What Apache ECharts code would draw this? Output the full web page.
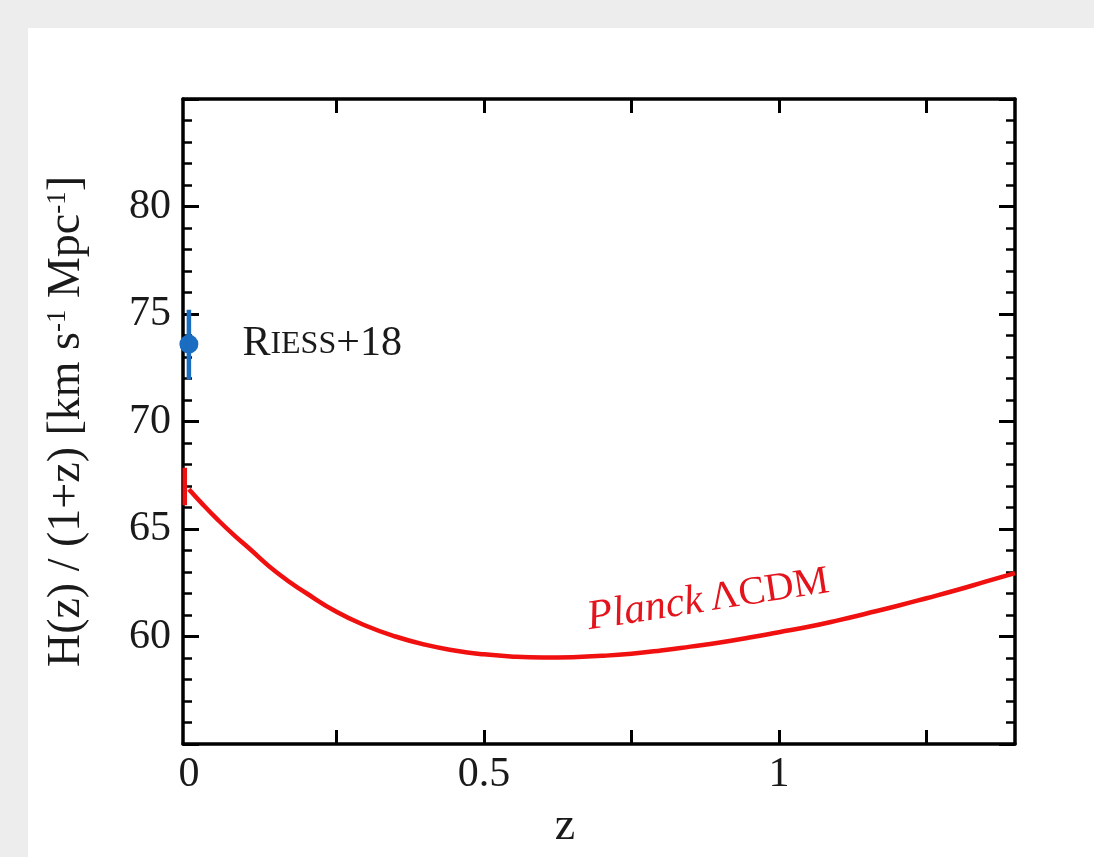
<!DOCTYPE html>
<html>
<head>
<meta charset="utf-8">
<script src="https://cdn.jsdelivr.net/npm/echarts@6/dist/echarts.min.js"></script>
<style>
  html, body { margin: 0; padding: 0; background: #ededed; width: 1094px; height: 857px; overflow: hidden; }
  #card { position: absolute; left: 28px; top: 28px; width: 1066px; height: 829px; background: #ffffff; }
  #chart { position: absolute; left: 0; top: 0; width: 1094px; height: 857px; }
</style>
</head>
<body>
<div id="card"></div>
<div id="chart"></div>
<script>
// ---- data ----
const planckZ = [0, 0.025, 0.05, 0.075, 0.1, 0.15, 0.2, 0.25, 0.3, 0.35, 0.4, 0.45, 0.5, 0.55, 0.6, 0.65, 0.7, 0.75, 0.8, 0.85, 0.9, 0.95, 1.0, 1.05, 1.1, 1.15, 1.2, 1.25, 1.3, 1.35, 1.4];
const planckH = [66.85, 66.1, 65.4, 64.75, 64.15, 62.95, 62.0, 61.15, 60.5, 60.0, 59.62, 59.35, 59.17, 59.06, 59.02, 59.04, 59.1, 59.2, 59.35, 59.53, 59.72, 59.95, 60.2, 60.45, 60.75, 61.08, 61.42, 61.78, 62.15, 62.55, 62.95];
const planckEdgeZ = [-0.007, -0.007];
const planckEdgeH = [67.85, 66.1];
const riessZ = [0];
const riessH = [73.6];
const riessLow = [71.95];
const riessHigh = [75.2];
const planckLabelPos = [0.88, 61.7];
const xTickValues = [0.25, 0.5, 0.75, 1, 1.25];
const xLabelValues = [0, 0.5, 1];
const xRange = [-0.01, 1.4];
const yRange = [55, 85];

const FONT = '"Liberation Serif", "DejaVu Serif", serif';
const INK = '#1a1a1a';
const chart = echarts.init(document.getElementById('chart'), null, { renderer: 'canvas' });

const axisLineStyle = { color: '#000', width: 3.5 };
const xCommon = {
  type: 'value', min: xRange[0], max: xRange[1],
  axisLine: { show: true, onZero: false, lineStyle: axisLineStyle },
  splitLine: { show: false },
  axisTick: { show: true, inside: true, length: 14, lineStyle: { color: '#000', width: 3 }, customValues: xTickValues }
};
const yCommon = {
  type: 'value', min: yRange[0], max: yRange[1], interval: 5,
  axisLine: { show: true, onZero: false, lineStyle: axisLineStyle },
  splitLine: { show: false },
  axisTick: { show: true, inside: true, length: 16, lineStyle: { color: '#000', width: 3 } },
  minorTick: { show: true, splitNumber: 5, length: 9, lineStyle: { color: '#000', width: 2.5 } }
};

const option = {
  animation: false,
  backgroundColor: 'transparent',
  grid: { left: 183, right: 79, top: 99, bottom: 113, containLabel: false },
  xAxis: [
    Object.assign({}, xCommon, {
      position: 'bottom',
      name: 'z', nameLocation: 'middle', nameGap: 60,
      nameTextStyle: { fontFamily: FONT, fontSize: 46, color: INK, padding: [0, 68, 0, 0] },
      axisLabel: { show: true, customValues: xLabelValues, margin: 10, fontFamily: FONT, fontSize: 42, color: INK,
        formatter: v => String(Math.round(v * 100) / 100) }
    }),
    Object.assign({}, xCommon, { position: 'top', axisLabel: { show: false } })
  ],
  yAxis: [
    Object.assign({}, yCommon, {
      position: 'left',
      name: '{n|H(z) / (1+z) [km s}{s|-1}{n| Mpc}{s|-1}{n|]}',
      nameLocation: 'middle', nameRotate: 90, nameGap: 93,
      nameTextStyle: { fontFamily: FONT, fontSize: 46, color: INK,
        rich: {
          n: { fontFamily: FONT, fontSize: 46, color: INK },
          s: { fontFamily: FONT, fontSize: 27, color: INK, verticalAlign: 'top', padding: [0, 0, 16, 0] }
        }
      },
      axisLabel: { show: true, margin: 12, fontFamily: FONT, fontSize: 42, color: INK,
        formatter: v => (v % 5 === 0 && v > 55 && v < 85) ? String(v) : '' }
    }),
    Object.assign({}, yCommon, { position: 'right', axisLabel: { show: false } })
  ],
  series: [
    {
      type: 'line', xAxisIndex: 0, yAxisIndex: 0,
      data: planckZ.map((z, i) => [z, planckH[i]]),
      showSymbol: false, smooth: true,
      lineStyle: { color: '#f01010', width: 4.5 }
    },
    {
      type: 'line', xAxisIndex: 0, yAxisIndex: 0,
      data: planckEdgeZ.map((z, i) => [z, planckEdgeH[i]]),
      showSymbol: false,
      lineStyle: { color: '#f01010', width: 4.5 }
    },
    {
      type: 'line', xAxisIndex: 0, yAxisIndex: 0,
      data: [[riessZ[0], riessLow[0]], [riessZ[0], riessHigh[0]]],
      showSymbol: false,
      lineStyle: { color: '#1a6dc0', width: 4.5 }
    },
    {
      type: 'scatter', xAxisIndex: 0, yAxisIndex: 0,
      data: riessZ.map((z, i) => [z, riessH[i]]),
      symbol: 'circle', symbolSize: 19,
      itemStyle: { color: '#1a6dc0', opacity: 1 },
      label: {
        show: true, position: 'right', distance: 44, color: INK, opacity: 1,
        formatter: '{a|R}{b|IESS}{a|+18}',
        rich: {
          a: { fontFamily: FONT, fontSize: 42, color: INK },
          b: { fontFamily: FONT, fontSize: 32, color: INK }
        }
      }
    },
    {
      type: 'scatter', xAxisIndex: 0, yAxisIndex: 0,
      data: [planckLabelPos],
      symbolSize: 0,
      label: {
        show: true, position: 'inside', rotate: 8.7, opacity: 1,
        formatter: '{i|Planck}{sp| }{n|ΛCDM}',
        rich: {
          i: { fontFamily: FONT, fontStyle: 'italic', fontSize: 42, color: '#e3141c' },
          sp: { fontFamily: FONT, fontSize: 30 },
          n: { fontFamily: FONT, fontSize: 40, color: '#e3141c' }
        }
      }
    }
  ]
};
chart.setOption(option);
</script>
</body>
</html>
